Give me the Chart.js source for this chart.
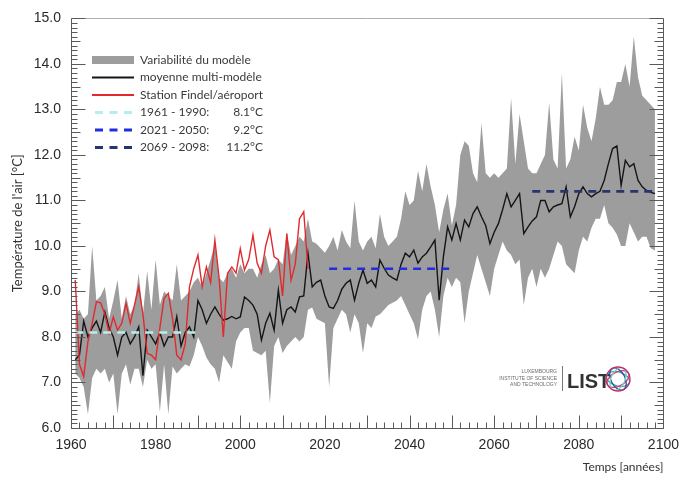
<!DOCTYPE html>
<html>
<head>
<meta charset="utf-8">
<script src="https://cdn.jsdelivr.net/npm/chart.js@4.4.1/dist/chart.umd.min.js"></script>
<style>
  html, body { margin: 0; padding: 0; background: #fff; }
</style>
</head>
<body>
<canvas id="chart" width="688" height="478"></canvas>
<script>
// model years start in 1961
const firstYear = 1961;

const meanTemp = [
  7.5, 7.6, 8.35, 8.0, 8.2, 8.35, 8.1, 8.55, 8.2, 8.0,
  7.6, 8.0, 8.1, 7.85, 8.0, 8.22, 7.15, 8.15, 8.0, 7.85,
  8.1, 7.8, 8.0, 8.0, 8.45, 7.8, 8.1, 8.22, 8.0, 8.8,
  8.6, 8.3, 8.5, 8.66, 8.5, 8.37, 8.4, 8.45, 8.4, 8.44,
  8.88, 8.8, 8.7, 8.5, 7.93, 8.3, 8.52, 8.15, 9.03, 8.3,
  8.6, 8.66, 8.55, 8.88, 8.9, 9.84, 9.1, 9.2, 9.25, 8.9,
  8.66, 8.63, 8.8, 9.05, 9.18, 9.25, 8.81, 9.18, 9.47, 9.18,
  9.25, 9.1, 9.69, 9.51, 9.36, 9.3, 9.25, 9.6, 9.84, 9.76,
  9.91, 9.62, 9.76, 9.84, 9.98, 10.13, 8.81, 9.76, 10.42, 10.13,
  10.49, 10.13, 10.57, 10.42, 10.71, 10.86, 10.64, 10.45, 10.05, 10.3,
  10.49, 10.8, 11.15, 10.86, 11.0, 11.15, 10.27, 10.42, 10.55, 10.64,
  11.0, 11.0, 10.75, 10.86, 10.9, 10.93, 11.3, 10.64, 10.86, 11.15,
  11.3, 11.15, 11.08, 11.15, 11.2, 11.44, 11.81, 12.14, 12.2, 11.33,
  11.88, 11.74, 11.81, 11.44, 11.3, 11.22, 11.18, 11.15
];

const bandHigh = [
  8.5, 8.6, 8.4, 8.5, 10.0, 8.8, 8.9, 9.1, 8.4, 8.8,
  9.25, 8.4, 8.9, 8.5, 8.7, 9.4, 8.5, 9.45, 8.6, 9.7,
  8.7, 9.0, 8.9, 8.8, 9.6, 8.8, 8.9, 9.0, 9.2, 9.3,
  9.1, 9.4, 9.7, 10.05, 9.3, 9.2, 9.4, 9.5, 9.3, 9.6,
  9.4, 9.5, 9.5, 9.3, 9.6, 9.8, 9.4, 9.5, 9.7, 9.6,
  10.3, 9.8, 10.0, 10.2, 10.1, 10.6, 10.1, 10.05, 9.95, 9.85,
  10.0, 10.2, 9.9, 10.35, 10.1, 9.95, 11.0, 10.1, 9.9, 10.1,
  10.2, 9.95, 10.7, 10.2, 10.0, 10.1, 10.2, 10.6, 11.2, 10.9,
  11.0, 11.65, 11.2, 11.8, 11.3, 10.9, 10.3, 10.8, 11.15, 10.45,
  10.9, 12.0, 12.3, 12.2, 11.6, 11.4, 12.7, 11.6, 11.5, 11.6,
  11.5, 11.6, 11.7, 13.25, 11.8, 12.9, 12.3, 11.7, 11.6, 11.6,
  11.8, 12.0, 13.15, 11.9, 11.7, 13.8, 11.7, 11.9, 12.4, 12.1,
  13.1, 12.6, 12.3, 12.8, 13.5, 13.1, 13.1, 13.2, 13.6, 13.6,
  14.0, 13.5, 14.6, 13.7, 13.3, 13.2, 13.1, 13.0
];

const bandLow = [
  7.2, 7.1, 6.9, 6.3, 7.1, 7.3, 7.2, 7.3, 7.0, 7.2,
  6.3, 7.2, 7.4, 6.95, 7.3, 7.3, 6.9, 7.5, 7.3, 7.4,
  6.35, 7.4, 6.3, 7.35, 7.2, 7.3, 7.4, 7.35, 7.6, 8.0,
  7.8, 7.55, 7.4, 7.3, 7.0, 7.6, 7.45, 7.3, 7.9, 8.1,
  8.2, 8.2, 7.7, 7.65, 7.6, 7.7, 6.55, 7.8, 8.0, 7.65,
  7.8, 7.9, 8.0, 7.9, 8.0, 8.6, 8.65, 8.4, 8.35, 8.3,
  6.9, 8.2, 8.4, 8.6, 8.5, 8.1, 8.5, 8.3, 7.65, 8.3,
  8.2, 8.45, 8.5, 8.6, 8.7, 8.75, 8.8, 8.9, 8.7, 8.5,
  8.3, 7.95, 8.6, 8.9, 9.0, 8.6, 8.0, 8.9, 9.3, 9.1,
  9.3, 9.2, 8.3, 9.0, 9.4, 9.8, 9.5, 9.2, 8.9, 9.5,
  9.8, 10.1, 9.9, 9.8, 9.6, 9.7, 8.7, 9.3, 9.5, 9.1,
  9.5, 9.3, 9.5, 9.8, 10.1, 10.0, 9.6, 9.5, 9.4, 9.9,
  10.2, 10.1, 10.4, 10.6, 10.6, 10.9, 10.5, 10.4, 10.25, 10.0,
  10.0, 10.5, 10.3, 10.1, 10.2, 10.2, 9.95, 9.9
];

// Findel station observations, from 1961
const stationTemp = [
  9.25, 7.4, 7.13, 7.9, 8.3, 8.77, 8.75, 8.5, 8.08, 8.44,
  8.15, 8.3, 8.74, 8.3, 8.7, 9.1, 8.5, 7.64, 7.6, 7.5,
  8.2, 8.85, 8.96, 8.4, 7.6, 7.5, 7.85, 9.1, 9.5, 9.8,
  9.1, 9.54, 9.2, 10.13, 9.3, 8.0, 9.4, 9.54, 9.4, 9.94,
  9.47, 9.7, 10.24, 9.62, 9.4, 10.0, 10.35, 9.76, 9.7, 8.9,
  10.27, 9.25, 9.6, 10.6, 10.75, 9.5
];

const periodStart = [1961, 2021, 2069];
const periodEnd = [1990, 2050, 2098];
const periodLevel = [8.1, 9.5, 11.2];
const periodText = ['1961 - 1990:', '2021 - 2050:', '2069 - 2098:'];
const periodValue = ['8.1°C', '9.2°C', '11.2°C'];
const periodColors = ['#b4eeee', '#1f2fe0', '#27356e'];

const seriesLabels = ['Variabilité du modèle', 'moyenne multi-modèle', 'Station Findel/aéroport'];

const toPoints = (arr, start) => arr.map((v, i) => ({ x: start + i, y: v }));

const datasets = [
  {
    label: seriesLabels[0] + ' max',
    data: toPoints(bandHigh, firstYear),
    borderWidth: 0,
    pointRadius: 0,
    backgroundColor: '#9d9d9d',
    fill: 1,
    order: 10
  },
  {
    label: seriesLabels[0] + ' min',
    data: toPoints(bandLow, firstYear),
    borderWidth: 0,
    pointRadius: 0,
    fill: false,
    order: 11
  },
  {
    label: seriesLabels[1],
    data: toPoints(meanTemp, firstYear),
    borderColor: '#151515',
    borderWidth: 1.4,
    pointRadius: 0,
    fill: false,
    order: 6
  },
  {
    label: seriesLabels[2],
    data: toPoints(stationTemp, firstYear),
    borderColor: '#e02a2e',
    borderWidth: 1.4,
    pointRadius: 0,
    fill: false,
    order: 5
  }
];

periodStart.forEach((s, i) => {
  datasets.push({
    label: periodText[i] + ' ' + periodValue[i],
    data: [{ x: s, y: periodLevel[i] }, { x: periodEnd[i], y: periodLevel[i] }],
    borderColor: periodColors[i],
    borderWidth: 2.6,
    borderDash: [8, 6],
    pointRadius: 0,
    fill: false,
    order: 1
  });
});

// box frame with inward ticks, like the original plot
const framePlugin = {
  id: 'frame',
  afterDraw(chart) {
    const { ctx, chartArea: a, scales: { x, y } } = chart;
    const l = Math.round(a.left) + 0.5, r = Math.round(a.right) + 0.5;
    const t = Math.round(a.top) + 0.5, b = Math.round(a.bottom) + 0.5;
    ctx.save();
    ctx.lineWidth = 1;
    ctx.strokeStyle = '#b0b0b0';
    ctx.beginPath();
    ctx.moveTo(l, t); ctx.lineTo(r, t);
    ctx.stroke();
    ctx.strokeStyle = '#5a5a5a';
    ctx.beginPath();
    ctx.moveTo(l, t); ctx.lineTo(l, b); ctx.lineTo(r, b); ctx.lineTo(r, t);
    for (let i = 0; i <= 90; i++) {
      const py = Math.round(y.getPixelForValue(6 + i / 10)) + 0.5;
      const len = i % 10 === 0 ? 14 : (i % 5 === 0 ? 9 : 6);
      ctx.moveTo(l, py); ctx.lineTo(l + len, py);
      ctx.moveTo(r, py); ctx.lineTo(r - len, py);
    }
    for (let yr = 1960; yr <= 2100; yr += 2) {
      const px = Math.round(x.getPixelForValue(yr)) + 0.5;
      const len = yr % 10 === 0 ? 13 : 6;
      ctx.moveTo(px, b); ctx.lineTo(px, b - len);
    }
    ctx.stroke();
    ctx.restore();
  }
};

const legendPlugin = {
  id: 'insideLegend',
  afterDraw(chart) {
    const ctx = chart.ctx;
    const ds = chart.data.datasets;
    const x0 = 92, x1 = 134, tx = 140, valRight = 263;
    const rowY = i => 60 + i * 17.5;
    ctx.save();
    ctx.font = '12px Lato, "Open Sans", sans-serif';
    ctx.textBaseline = 'middle';

    ctx.fillStyle = ds[0].backgroundColor;
    ctx.fillRect(x0, rowY(0) - 4, x1 - x0, 8);

    [2, 3].forEach((di, k) => {
      ctx.strokeStyle = ds[di].borderColor;
      ctx.lineWidth = ds[di].borderWidth + 0.6;
      ctx.beginPath();
      ctx.moveTo(x0, rowY(k + 1)); ctx.lineTo(x1, rowY(k + 1));
      ctx.stroke();
    });

    periodText.forEach((t, i) => {
      const d = ds[4 + i];
      ctx.strokeStyle = d.borderColor;
      ctx.lineWidth = 3;
      ctx.setLineDash([8, 6.5]);
      ctx.beginPath();
      ctx.moveTo(x0 + 3, rowY(i + 3)); ctx.lineTo(x1, rowY(i + 3));
      ctx.stroke();
    });
    ctx.setLineDash([]);

    ctx.fillStyle = '#3a3a3a';
    ctx.textAlign = 'left';
    seriesLabels.forEach((t, i) => ctx.fillText(t, tx, rowY(i)));
    periodText.forEach((t, i) => ctx.fillText(t, tx, rowY(i + 3)));
    ctx.textAlign = 'right';
    periodValue.forEach((t, i) => ctx.fillText(t, valRight, rowY(i + 3)));
    ctx.restore();
  }
};

// institute mark in the lower right corner
const logoPlugin = {
  id: 'logo',
  afterDraw(chart) {
    const ctx = chart.ctx;
    ctx.save();
    ctx.fillStyle = '#6b6b6b';
    ctx.font = '5px "Liberation Sans", sans-serif';
    ctx.textAlign = 'right';
    ctx.textBaseline = 'middle';
    ['LUXEMBOURG', 'INSTITUTE OF SCIENCE', 'AND TECHNOLOGY'].forEach((t, i) => ctx.fillText(t, 557, 372 + i * 6.5));
    ctx.strokeStyle = '#777';
    ctx.lineWidth = 1;
    ctx.beginPath();
    ctx.moveTo(562.5, 366); ctx.lineTo(562.5, 391);
    ctx.stroke();
    ctx.fillStyle = '#333';
    ctx.font = 'bold 20px "Liberation Sans Narrow", "Liberation Sans", sans-serif';
    ctx.textAlign = 'left';
    ctx.textBaseline = 'alphabetic';
    ctx.fillText('LIST', 567, 388);
    const cx = 618, cy = 379;
    const rings = [['#2fb5b0', 0.3], ['#d83a72', -0.5], ['#2d4f9c', 1.1], ['#7fc9c3', 2.0]];
    ctx.lineWidth = 1.3;
    rings.forEach(([c, r]) => {
      ctx.strokeStyle = c;
      ctx.beginPath();
      ctx.ellipse(cx, cy, 12, 7, r, 0, Math.PI * 2);
      ctx.stroke();
    });
    ctx.strokeStyle = '#c0306a';
    ctx.beginPath();
    ctx.arc(cx, cy, 12, 0, Math.PI * 2);
    ctx.stroke();
    ctx.restore();
  }
};

new Chart(document.getElementById('chart'), {
  type: 'line',
  data: { datasets },
  options: {
    responsive: false,
    animation: false,
    devicePixelRatio: 1,
    layout: { padding: { top: 18, right: 18, left: 0, bottom: 0 } },
    plugins: {
      legend: { display: false },
      tooltip: { enabled: false }
    },
    elements: { line: { tension: 0 } },
    scales: {
      x: {
        type: 'linear',
        min: 1960,
        max: 2100,
        afterFit: s => { s.height = 50; },
        grid: { display: false, drawTicks: false },
        border: { display: false },
        ticks: {
          stepSize: 20,
          padding: 9,
          maxRotation: 0,
          color: '#2a2a2a',
          font: { family: '"Liberation Sans", Arial, sans-serif', size: 14 },
          callback: v => String(v)
        },
        title: {
          display: true,
          text: 'Temps [années]',
          align: 'end',
          color: '#333',
          font: { family: 'Lato, "Open Sans", sans-serif', size: 12 },
          padding: { top: 0, bottom: 4 }
        }
      },
      y: {
        type: 'linear',
        min: 6,
        max: 15,
        afterFit: s => { s.width = 71; },
        grid: { display: false, drawTicks: false },
        border: { display: false },
        ticks: {
          stepSize: 1,
          padding: 10,
          color: '#2a2a2a',
          font: { family: '"Liberation Sans", Arial, sans-serif', size: 14 },
          callback: v => v.toFixed(1)
        },
        title: {
          display: true,
          text: "Température de l'air [°C]",
          color: '#333',
          font: { family: 'Lato, "Open Sans", sans-serif', size: 13 },
          padding: { top: 10, bottom: 0 }
        }
      }
    }
  },
  plugins: [framePlugin, legendPlugin, logoPlugin]
});
</script>
</body>
</html>
